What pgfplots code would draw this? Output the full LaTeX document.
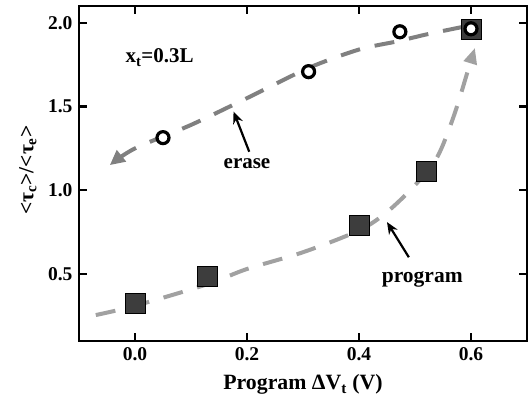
\documentclass[border=0pt]{standalone}
\usepackage{fontspec}
\setmainfont{Liberation Serif}
\usepackage{pgfplots}
\pgfplotsset{compat=1.18}
\usetikzlibrary{arrows.meta}
\definecolor{erasec}{gray}{0.50}
\definecolor{progc}{gray}{0.63}
\definecolor{sqc}{gray}{0.24}
\begin{document}
\begin{tikzpicture}
\path[use as bounding box] (-79pt,-58pt) rectangle (452pt,341pt);
\begin{axis}[
  scale only axis, width=448pt, height=335pt,
  xmin=-0.1, xmax=0.7, ymin=0.1, ymax=2.1,
  xtick={0,0.2,0.4,0.6}, ytick={0.5,1,1.5,2},
  minor tick num=0, scaled ticks=false,
  tick align=inside, major tick length=8pt,
  axis line style={line width=2.6pt},
  every tick/.style={black, line width=2.2pt},
  tick label style={font=\fontsize{19.5}{22}\selectfont\bfseries},
  /pgf/number format/assume math mode=true,
  /pgf/number format/fixed, /pgf/number format/fixed zerofill,
  /pgf/number format/precision=1,
  xticklabel style={yshift=-3pt},
  yticklabel style={xshift=-3pt},
  xlabel={Program ΔV\textsubscript{t} (V)},
  ylabel={<τ\textsubscript{c}>/<τ\textsubscript{e}>},
  every axis x label/.style={at={(axis description cs:0.5,-0.146)}, anchor=base, font=\fontsize{21.8}{24}\selectfont\bfseries},
  every axis y label/.style={at={(axis description cs:-0.114,0.51)}, rotate=90, anchor=center, font=\fontsize{21.5}{24}\selectfont\bfseries},
  clip=false,
]
% program squares
\addplot[only marks, mark=square*, mark size=10pt, mark options={fill=sqc, draw=none}]
  coordinates {(0.0,0.326) (0.129,0.484) (0.40,0.79) (0.52,1.114) (0.60,1.964)};
% erase dashed curve
\addplot[smooth, erasec, line width=4pt, dash pattern=on 20pt off 15pt,
  -{Triangle[length=15pt,width=14pt]}]
  coordinates {(0.585,1.975) (0.52,1.93) (0.47,1.89) (0.40,1.84) (0.31,1.73)
   (0.20,1.55) (0.10,1.39) (0.00,1.25) (-0.045,1.15)};
% program dashed curve
\addplot[smooth, progc, line width=4pt, dash pattern=on 20pt off 15pt,
  -{Triangle[length=16pt,width=13pt]}]
  coordinates {(-0.07,0.255) (0.0,0.31) (0.13,0.44) (0.20,0.53) (0.30,0.63)
   (0.40,0.76) (0.45,0.87) (0.50,1.03) (0.54,1.20) (0.57,1.45) (0.595,1.72) (0.607,1.85)};
% erase circles
\addplot[only marks, mark=*, mark size=6pt, mark options={fill=white, draw=black, line width=3.2pt}]
  coordinates {(0.05,1.314) (0.31,1.708) (0.473,1.946) (0.60,1.964)};
% annotations
\node[anchor=base, font=\fontsize{21}{24}\selectfont\bfseries] at (axis cs:0.044,1.76) {x\textsubscript{t}=0.3L};
\node[anchor=base, font=\fontsize{21}{24}\selectfont\bfseries] at (axis cs:0.20,1.13) {erase};
\node[anchor=base, font=\fontsize{21.5}{24}\selectfont\bfseries] at (axis cs:0.513,0.45) {program};
\draw[line width=2.2pt, -{Stealth[length=12pt,width=10pt]}] (axis cs:0.204,1.23) -- (axis cs:0.176,1.47);
\draw[line width=2.2pt, -{Stealth[length=12pt,width=10pt]}] (axis cs:0.489,0.60) -- (axis cs:0.45,0.81);
\end{axis}
\end{tikzpicture}
\end{document}
